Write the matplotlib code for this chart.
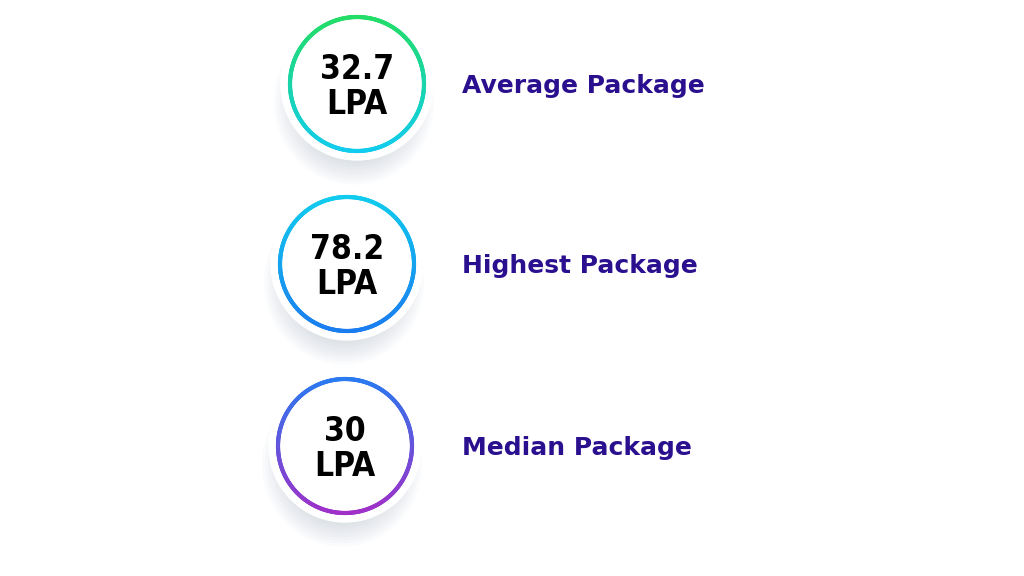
import matplotlib
matplotlib.use("Agg")
import matplotlib.pyplot as plt
import numpy as np
from matplotlib.collections import LineCollection
from matplotlib.patches import Circle, Ellipse
from matplotlib.colors import to_rgb

values = ["32.7\nLPA", "78.2\nLPA", "30\nLPA"]
labels = ["Average Package", "Highest Package", "Median Package"]
top_colors = ["#22dd66", "#11ccee", "#2a7af0"]
bot_colors = ["#11ccee", "#1a7cf0", "#a030c8"]
centers = [(357, 84), (347, 264), (345, 446)]

fig = plt.figure(figsize=(10.24, 5.76), dpi=100)
ax = fig.add_axes([0, 0, 1, 1])
ax.set_xlim(0, 1024); ax.set_ylim(576, 0); ax.set_aspect("equal"); ax.axis("off")

for (cx, cy), v, lab, tc, bc in zip(centers, values, labels, top_colors, bot_colors):
    for k in range(12):
        ax.add_patch(Ellipse((cx - 3, cy + 18), 160 - k * 6, 165 - k * 6,
                             color="#8a9ab0", alpha=0.035, lw=0))
    ax.add_patch(Circle((cx, cy), 76, color="white", zorder=2))
    th = np.linspace(0, 2 * np.pi, 361)
    r = 67
    xs = cx + r * np.cos(th); ys = cy + r * np.sin(th)
    pts = np.stack([xs, ys], 1)
    segs = np.stack([pts[:-1], pts[1:]], 1)
    t = ((ys[:-1] + ys[1:]) / 2 - (cy - r)) / (2 * r)
    t1, b1 = np.array(to_rgb(tc)), np.array(to_rgb(bc))
    cols = [tuple(t1 * (1 - a) + b1 * a) for a in t]
    ax.add_collection(LineCollection(segs, colors=cols, linewidths=3.0, zorder=3,
                                     capstyle="round"))
    ax.text(cx, cy + 3, v, ha="center", va="center", fontsize=24, fontweight="bold",
            family="DejaVu Sans", fontstretch="condensed", linespacing=1.05, zorder=4)
    ax.text(462, cy + 2, lab, ha="left", va="center", fontsize=18, fontweight="bold",
            color="#2a0f8f", family="DejaVu Sans", zorder=4)

fig.savefig("out.png", dpi=100)
